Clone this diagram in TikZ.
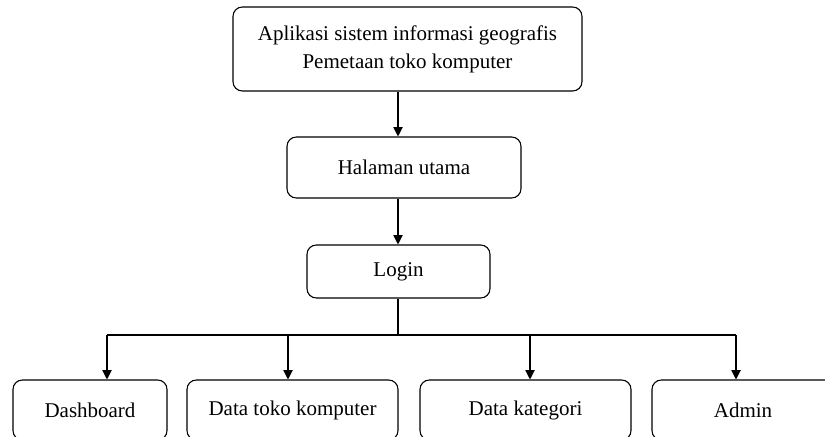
\documentclass[tikz,border=0pt]{standalone}
\usepackage{fontspec}
\setmainfont{Liberation Serif}
\usetikzlibrary{arrows.meta}
\begin{document}
\begin{tikzpicture}[x=0.75pt,y=-0.75pt,
  box/.style={draw,line width=0.8pt,rounded corners=7pt,align=center,inner sep=0pt,
    font=\fontsize{15.75pt}{21pt}\selectfont},
  conn/.style={line width=0.8pt},
  arr/.style={conn,-{Triangle[length=7pt,width=7pt]}}]
\useasboundingbox (0,0) rectangle (825,436);
\clip (0,0) rectangle (825,436);
\fill[white] (0,0) rectangle (825,436);
\node[box,minimum width=349*0.75pt,minimum height=84*0.75pt] (top) at (407.5,49)
  {Aplikasi sistem informasi geografis\\Pemetaan toko komputer};
\node[box,minimum width=234*0.75pt,minimum height=61*0.75pt] (hal) at (404,167.5) {Halaman utama};
\node[box,minimum width=183*0.75pt,minimum height=53*0.75pt] (login) at (398.5,271.5) {Login};
\node[box,minimum width=154*0.75pt,minimum height=60*0.75pt] (dash) at (90,410) {Dashboard};
\node[box,minimum width=211*0.75pt,minimum height=60*0.75pt] (toko) at (292.5,410) {Data toko komputer};
\node[box,minimum width=211*0.75pt,minimum height=60*0.75pt] (kat) at (525.5,410) {Data kategori};
\node[box,minimum width=182*0.75pt,minimum height=60*0.75pt] (adm) at (743,410) {Admin};
\coordinate (j) at (398,335);
\coordinate (b1) at (107,335);
\coordinate (b2) at (288,335);
\coordinate (b3) at (530,335);
\coordinate (b4) at (736,335);
\draw[arr] (top.south -| j) -- (hal.north -| j);
\draw[arr] (hal.south -| j) -- (login.north -| j);
\draw[conn] (login.south -| j) -- (j);
\draw[conn] (b1) -- (b4);
\draw[arr] (b1) -- (b1 |- dash.north);
\draw[arr] (b2) -- (b2 |- toko.north);
\draw[arr] (b3) -- (b3 |- kat.north);
\draw[arr] (b4) -- (b4 |- adm.north);
\end{tikzpicture}
\end{document}
